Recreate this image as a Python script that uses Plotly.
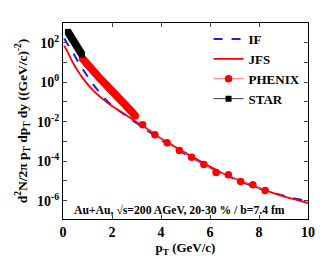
import plotly.graph_objects as go

# ---- data ----
if_pt = [0.05, 0.2, 0.4, 0.6, 0.8, 1.0, 1.2, 1.4, 1.6, 1.8, 2.0, 2.4, 2.8, 3.2, 3.6, 4.0,
         4.5, 5.0, 5.5, 6.0, 6.5, 7.0, 7.5, 8.0, 8.5, 9.0, 9.5, 10.0]
if_val = [166, 79.4, 31.6, 12.0, 4.79, 2.00, 0.891, 0.417, 0.209, 0.112, 0.0661, 0.0282,
          0.0126, 5.75e-3, 2.63e-3, 1.20e-3, 5.01e-4, 2.24e-4, 1.05e-4, 5.01e-5, 2.40e-5,
          1.26e-5, 7.08e-6, 4.27e-6, 2.69e-6, 1.78e-6, 1.26e-6, 9.33e-7]

jfs_pt = [0.05, 0.2, 0.4, 0.6, 0.8, 1.0, 1.2, 1.4, 1.6, 1.8, 2.0, 2.4, 2.8, 3.2, 3.6, 4.0,
          4.5, 5.0, 5.5, 6.0, 6.5, 7.0, 7.5, 8.0, 8.5, 9.0, 9.5, 10.0]
jfs_val = [70.8, 31.6, 10.0, 3.80, 1.66, 0.794, 0.417, 0.240, 0.148, 0.0955, 0.0631, 0.0302,
           0.0141, 6.76e-3, 3.16e-3, 1.41e-3, 6.03e-4, 2.63e-4, 1.17e-4, 5.37e-5, 2.51e-5,
           1.32e-5, 7.41e-6, 4.37e-6, 2.63e-6, 1.66e-6, 1.12e-6, 7.59e-7]

phenix_pt = [0.80, 0.85, 0.90, 0.95, 1.00, 1.05, 1.10, 1.15, 1.20, 1.25, 1.30, 1.35, 1.40,
             1.45, 1.50, 1.55, 1.60, 1.65, 1.70, 1.75, 1.80, 1.85, 1.90, 1.95, 2.00, 2.05,
             2.10, 2.15, 2.20, 2.25, 2.30, 2.35, 2.40, 2.45, 2.50, 2.55, 2.60, 2.65, 2.70,
             2.75, 2.80, 2.85, 2.90, 2.95,
             3.25, 3.75, 4.25, 4.75, 5.25, 5.75, 6.25, 6.75, 7.25, 7.75, 8.25]
phenix_val = [15.5, 13.2, 11.2, 9.33, 7.94, 6.76, 5.75, 4.90, 4.17, 3.55, 3.02, 2.57, 2.19,
              1.86, 1.60, 1.38, 1.19, 1.02, 0.881, 0.759, 0.653, 0.562, 0.484, 0.417, 0.359,
              0.309, 0.266, 0.229, 0.197, 0.170, 0.146, 0.126, 0.108, 0.0933, 0.0804,
              0.0692, 0.0596, 0.0513, 0.0442, 0.0380, 0.0324, 0.0275, 0.0234, 0.0200,
              7.08e-3, 2.19e-3, 8.51e-4, 3.47e-4, 1.58e-4, 6.76e-5, 2.69e-5, 2.04e-5,
              9.33e-6, 6.31e-6, 3.31e-6]

star_pt = [0.20, 0.225, 0.25, 0.275, 0.30, 0.325, 0.35, 0.375, 0.40, 0.425, 0.45, 0.475,
           0.50, 0.525, 0.55, 0.575, 0.60, 0.625, 0.65, 0.675, 0.70, 0.725, 0.75, 0.775]
star_val = [355, 316, 282, 251, 224, 200, 178, 158, 141, 126, 112, 100,
            89.1, 79.4, 70.8, 63.1, 56.2, 50.1, 44.7, 39.8, 35.5, 31.6, 28.2, 25.1]

x_ticks = [0, 2, 4, 6, 8, 10]
y_tickvals = [1e-7, 1e-6, 1e-5, 1e-4, 1e-3, 1e-2, 1e-1, 1e0, 1e1, 1e2, 1e3]
y_ticktext = ["", "10<sup>-6</sup>", "", "10<sup>-4</sup>", "", "10<sup>-2</sup>", "",
              "10<sup>0</sup>", "", "10<sup>2</sup>", ""]

FONT = "Liberation Serif"
BOLD = dict(family=FONT, size=14, color="black", weight="bold")

fig = go.Figure()
fig.add_trace(go.Scatter(x=if_pt, y=if_val, mode="lines", name="IF",
                         line=dict(color="#1a1aff", width=2, dash="dash", shape="spline")))
fig.add_trace(go.Scatter(x=jfs_pt, y=jfs_val, mode="lines", name="JFS",
                         line=dict(color="#ff0000", width=1.8, shape="spline")))
fig.add_trace(go.Scatter(x=phenix_pt, y=phenix_val, mode="lines+markers", name="PHENIX",
                         line=dict(color="#ff5050", width=0.8),
                         marker=dict(symbol="circle", size=7.5, color="#ff0000")))
fig.add_trace(go.Scatter(x=star_pt, y=star_val, mode="lines+markers", name="STAR",
                         line=dict(color="#000000", width=0.8),
                         marker=dict(symbol="square", size=6, color="#000000")))

fig.add_annotation(text="<b>Au+Au, \u221As=200 AGeV, 20-30 % / b=7.4 fm</b>",
                   xref="paper", yref="paper", x=0.035, y=0.045, xanchor="left",
                   yanchor="middle", showarrow=False,
                   font=dict(family=FONT, size=11.7, color="black"))

# the page body adds an 8px offset, so the figure is sized to fit inside it
fig.update_layout(
    width=319, height=251,
    margin=dict(l=55, r=19, t=15, b=40),
    paper_bgcolor="white", plot_bgcolor="white",
    font=dict(family=FONT, color="black", size=13),
    showlegend=True,
    legend=dict(x=0.99, y=0.995, xanchor="right", yanchor="top",
                bgcolor="rgba(0,0,0,0)", font=dict(family=FONT, size=13, weight="bold"),
                tracegroupgap=0, itemwidth=30),
    xaxis=dict(range=[0, 10], tickvals=x_ticks, ticks="inside", ticklen=4,
               showline=True, linecolor="black", linewidth=1, mirror="ticks",
               showgrid=False, zeroline=False, automargin=False,
               tickfont=BOLD,
               title=dict(text="<b>p<sub>T</sub> (GeV/c)</b>", standoff=0,
                          font=dict(family=FONT, size=13))),
    yaxis=dict(type="log", range=[-6.93, 3.0], tickvals=y_tickvals, ticktext=y_ticktext,
               ticks="inside", ticklen=4, showline=True, linecolor="black", linewidth=1,
               mirror="ticks", showgrid=False, zeroline=False, automargin=False,
               tickfont=BOLD,
               title=dict(text="<b>d<sup>2</sup>N/2\u03c0 p<sub>T</sub> dp<sub>T</sub> dy ((GeV/c)<sup>-2</sup>)</b>",
                          standoff=6, font=dict(family=FONT, size=13.5))),
)

fig.write_html("out.html")
